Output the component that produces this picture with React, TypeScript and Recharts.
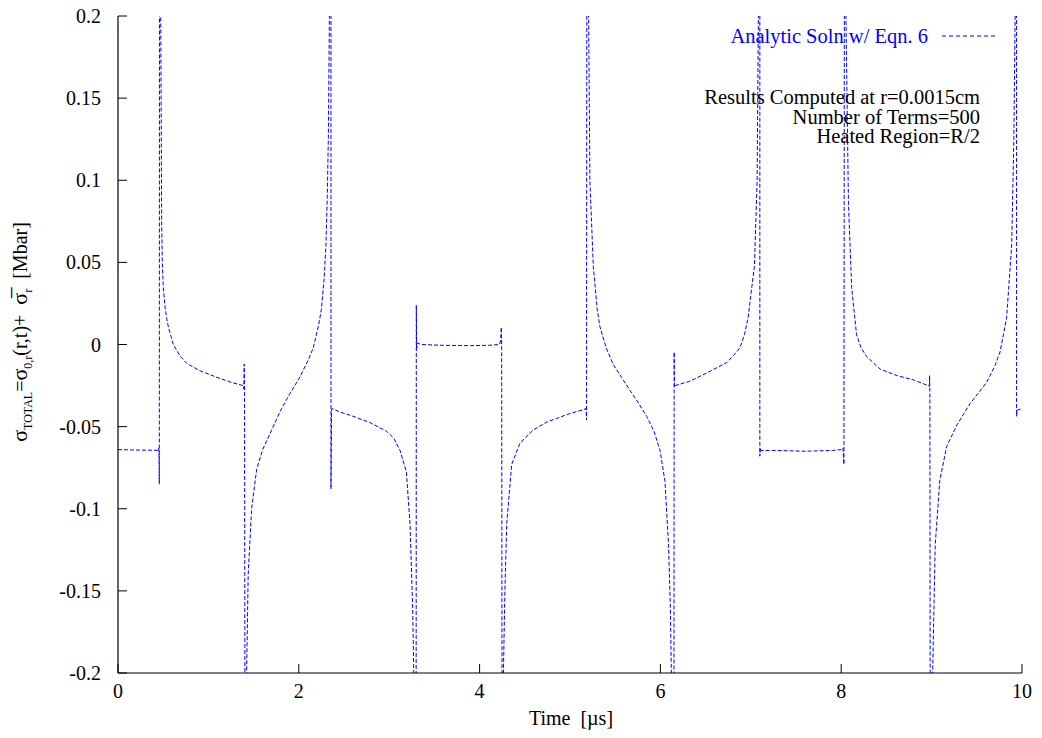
import React from 'react';
import { LineChart, Line, XAxis, YAxis, Legend, Label } from 'recharts';

// Time [µs]
const timeUs = [
  0, 0.15, 0.3, 0.44, 0.45, 0.454, 0.457, 0.459, 0.472, 0.483, 0.49, 0.501, 0.52, 0.538, 0.56, 0.612,
  0.686, 0.76, 0.907, 1.095, 1.25, 1.383, 1.392, 1.396, 1.4, 1.404, 1.42, 1.44, 1.478, 1.534, 1.6, 1.7,
  1.8, 1.9, 2.0, 2.1, 2.16, 2.22, 2.25, 2.28, 2.3, 2.315, 2.327, 2.34, 2.356, 2.356, 2.362, 2.37,
  2.45, 2.6, 2.79, 2.97, 3.05, 3.12, 3.19, 3.23, 3.26, 3.275, 3.298, 3.3, 3.303, 3.31, 3.35, 3.6,
  3.9, 4.1, 4.22, 4.235, 4.24, 4.244, 4.248, 4.26, 4.28, 4.3, 4.355, 4.447, 4.594, 4.75, 4.853, 5.0,
  5.147, 5.178, 5.183, 5.186, 5.205, 5.22, 5.258, 5.3, 5.33, 5.4, 5.48, 5.57, 5.664, 5.75, 5.848, 5.93,
  5.996, 6.05, 6.09, 6.11, 6.124, 6.15, 6.152, 6.156, 6.165, 6.327, 6.45, 6.55, 6.733, 6.82, 6.88, 6.93,
  6.97, 7.0, 7.04, 7.07, 7.085, 7.1, 7.1, 7.105, 7.11, 7.3, 7.6, 7.9, 8.0, 8.02, 8.03, 8.035,
  8.05, 8.08, 8.116, 8.17, 8.22, 8.28, 8.43, 8.614, 8.798, 8.96, 8.975, 8.978, 8.981, 8.984, 9.008, 9.04,
  9.09, 9.167, 9.28, 9.425, 9.61, 9.7, 9.757, 9.83, 9.886, 9.91, 9.926, 9.94, 9.94, 9.945, 10,
];

// sigma_TOTAL [Mbar]
const sigmaMbar = [
  -0.064, -0.0642, -0.0643, -0.0644, -0.063, -0.066, -0.085, 0.21, 0.21, 0.074, 0.05, 0.035, 0.023, 0.016, 0.01, 0.0,
  -0.007, -0.0115, -0.016, -0.02, -0.023, -0.025, -0.027, -0.012, -0.03, -0.21, -0.21, -0.14, -0.1, -0.076, -0.064, -0.052,
  -0.04, -0.03, -0.021, -0.01, -0.002, 0.012, 0.0215, 0.04, 0.06, 0.09, 0.126, 0.21, 0.21, -0.088, -0.04, -0.039,
  -0.041, -0.0437, -0.0476, -0.0528, -0.057, -0.0645, -0.0775, -0.109, -0.161, -0.21, -0.21, 0.024, -0.003, 0.001, 0.0, -0.0005,
  -0.0007, -0.0005, 0.0, 0.003, 0.0105, -0.003, -0.21, -0.21, -0.15, -0.109, -0.073, -0.06, -0.052, -0.047, -0.045, -0.042,
  -0.0397, -0.039, -0.046, 0.21, 0.21, 0.0997, 0.0476, 0.022, 0.011, -0.002, -0.0124, -0.02, -0.028, -0.035, -0.0437, -0.053,
  -0.0645, -0.083, -0.122, -0.16, -0.21, -0.21, -0.0046, -0.026, -0.025, -0.0223, -0.019, -0.0163, -0.011, -0.006, -0.002, 0.006,
  0.0163, 0.03, 0.0476, 0.0997, 0.21, 0.21, -0.068, -0.063, -0.0645, -0.0645, -0.065, -0.0645, -0.064, -0.063, -0.073, 0.21,
  0.21, 0.0866, 0.0345, 0.0059, -0.002, -0.0072, -0.015, -0.0189, -0.0215, -0.025, -0.0255, -0.0189, -0.03, -0.21, -0.21, -0.122,
  -0.083, -0.062, -0.049, -0.036, -0.023, -0.013, -0.0046, 0.0163, 0.0606, 0.126, 0.21, 0.21, -0.0437, -0.04, -0.039,
];

const xTicks = [0, 2, 4, 6, 8, 10];
const xTickLabels = ['0', '2', '4', '6', '8', '10'];
const yTicks = [-0.2, -0.15, -0.1, -0.05, 0, 0.05, 0.1, 0.15, 0.2];
const yTickLabels = ['-0.2', '-0.15', '-0.1', '-0.05', '0', '0.05', '0.1', '0.15', '0.2'];
const seriesName = 'Analytic Soln w/ Eqn. 6';
const annotations = ['Results Computed at r=0.0015cm', 'Number of Terms=500', 'Heated Region=R/2'];

const data = timeUs.map((t, i) => ({ t, s: sigmaMbar[i] }));

const FONT = '"Liberation Serif", "Times New Roman", serif';
const BLUE = '#0000ff';

const renderLegend = () => (
  <svg width={1042} height={160} style={{ display: 'block', pointerEvents: 'none' }}>
    <text x={928} y={43} textAnchor="end" fontFamily={FONT} fontSize={20.5} fill={BLUE}>
      {seriesName}
    </text>
    <line x1={942} x2={997} y1={36} y2={36} stroke={BLUE} strokeWidth={1} strokeDasharray="4 3" />
    {annotations.map((a, i) => (
      <text key={a} x={980} y={104 + i * 19.5} textAnchor="end" fontFamily={FONT} fontSize={20.5} fill="#000">
        {a}
      </text>
    ))}
  </svg>
);

const YLabel = () => (
  <text transform="translate(27,332) rotate(-90)" textAnchor="middle" fontFamily={FONT} fontSize={20} fill="#000">
    <tspan fontSize={22}>σ</tspan>
    <tspan fontSize={12} dy={5}>TOTAL</tspan>
    <tspan dy={-5}>=</tspan>
    <tspan fontSize={22}>σ</tspan>
    <tspan fontSize={12} dy={5}>0,r</tspan>
    <tspan dy={-5}>{'(r,t)+\u00a0 '}</tspan>
    <tspan fontSize={22}>σ̅</tspan>
    <tspan fontSize={12} dy={5}>r</tspan>
    <tspan dy={-5}>{'\u00a0 [Mbar]'}</tspan>
  </text>
);

const XLabel = () => (
  <text x={571} y={725} textAnchor="middle" fontFamily={FONT} fontSize={20} fill="#000">
    {'Time\u00a0 [µs]'}
  </text>
);

export default function App() {
  const tickStyle = { fontFamily: FONT, fontSize: 20, fill: '#000' };
  return (
    <div style={{ position: 'absolute', left: 0, top: 0, width: 1042, height: 738, background: '#fff' }}>
      <LineChart width={1042} height={738} data={data} margin={{ top: 16, right: 20, bottom: 0, left: 0 }}>
        <XAxis
          dataKey="t"
          type="number"
          domain={[0, 10]}
          ticks={xTicks}
          tickFormatter={(v: number) => xTickLabels[xTicks.indexOf(v)] ?? String(v)}
          allowDataOverflow
          height={65}
          tickSize={-9}
          tickMargin={20}
          tick={tickStyle}
          stroke="#000"
          axisLine={{ stroke: '#000', strokeWidth: 1.2 }}
          tickLine={{ stroke: '#000' }}
        >
          <Label content={<XLabel />} />
        </XAxis>
        <XAxis
          xAxisId="top"
          orientation="top"
          type="number"
          domain={[0, 10]}
          ticks={xTicks}
          allowDataOverflow
          height={0}
          tick={false}
          tickSize={-9}
          axisLine={{ stroke: '#000', strokeWidth: 1.2 }}
          tickLine={{ stroke: '#000' }}
        />
        <YAxis
          type="number"
          domain={[-0.2, 0.2]}
          ticks={yTicks}
          tickFormatter={(v: number) => yTickLabels[yTicks.indexOf(v)] ?? String(v)}
          allowDataOverflow
          width={118}
          tickSize={-9}
          tickMargin={26}
          tick={tickStyle}
          axisLine={{ stroke: '#000', strokeWidth: 1.2 }}
          tickLine={{ stroke: '#000' }}
        >
          <Label content={<YLabel />} />
        </YAxis>
        <YAxis
          yAxisId="right"
          orientation="right"
          type="number"
          domain={[-0.2, 0.2]}
          ticks={yTicks}
          allowDataOverflow
          width={0}
          tick={false}
          tickSize={-9}
          axisLine={{ stroke: '#000', strokeWidth: 1.2 }}
          tickLine={{ stroke: '#000' }}
        />
        <Legend
          align="center"
          verticalAlign="middle"
          content={renderLegend}
          wrapperStyle={{ position: 'absolute', left: 0, top: 0, width: 1042, height: 160 }}
        />
        <Line
          type="linear"
          dataKey="s"
          name={seriesName}
          stroke={BLUE}
          strokeWidth={1}
          strokeDasharray="4 2"
          dot={false}
          activeDot={false}
          isAnimationActive={false}
        />
      </LineChart>
    </div>
  );
}
